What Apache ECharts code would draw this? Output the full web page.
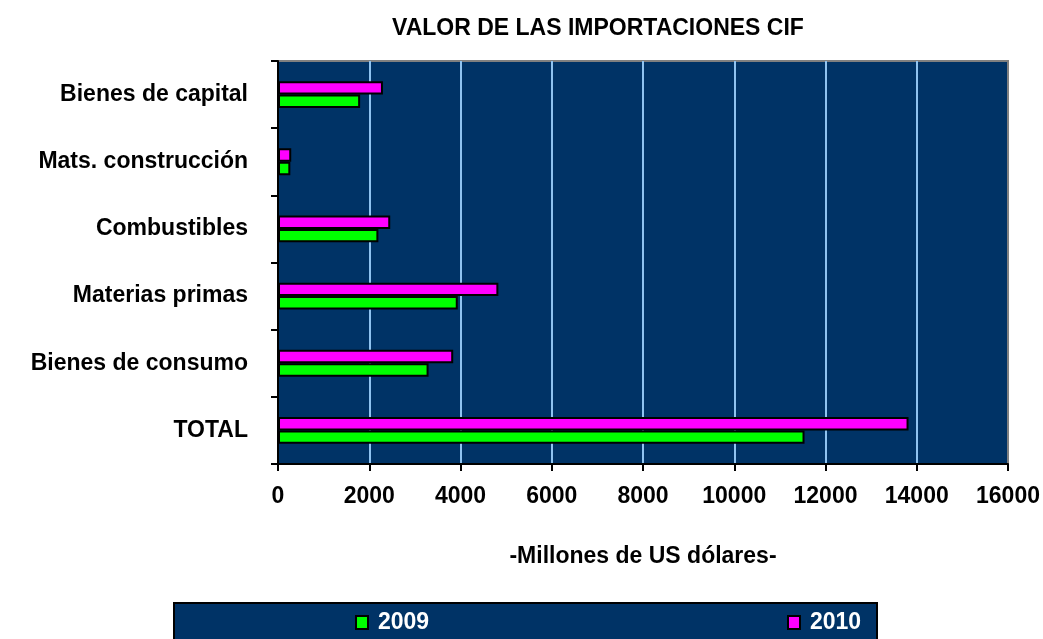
<!DOCTYPE html>
<html>
<head>
<meta charset="utf-8">
<title>VALOR DE LAS IMPORTACIONES CIF</title>
<script src="https://cdn.jsdelivr.net/npm/echarts@6/dist/echarts.min.js"></script>
<style>
html, body { margin: 0; padding: 0; background: #fff; }
#main { width: 1043px; height: 639px; }
</style>
</head>
<body>
<div id="main"></div>
<script>
// datos (millones de US$)
var categorias = ['Bienes de capital', 'Mats. construcción', 'Combustibles', 'Materias primas', 'Bienes de consumo', 'TOTAL'];
var valores2009 = [1800, 270, 2200, 3940, 3300, 11540];
var valores2010 = [2300, 290, 2460, 4830, 3840, 13820];
var ticksX = [0, 2000, 4000, 6000, 8000, 10000, 12000, 14000, 16000];

var fuente = '"Liberation Sans", Arial, sans-serif';

var myChart = echarts.init(document.getElementById('main'));
var option = {
    animation: false,
    textStyle: { fontFamily: fuente },
    graphic: [
        {
            type: 'text',
            left: 392,
            top: 17,
            style: {
                text: 'VALOR DE LAS IMPORTACIONES CIF',
                fontFamily: fuente,
                fontWeight: 'bold',
                fontSize: 23,
                fill: '#000'
            }
        },
        {
            // caja de la leyenda
            type: 'rect',
            z: 0,
            shape: { x: 174, y: 603, width: 703, height: 50 },
            style: { fill: '#003366', stroke: '#000', lineWidth: 2 }
        }
    ],
    legend: [
        {
            data: ['2009'],
            left: 355,
            top: 611,
            padding: 0,
            z: 10,
            icon: 'rect',
            itemWidth: 12,
            itemHeight: 13,
            textStyle: { color: '#fff', fontWeight: 'bold', fontSize: 23, fontFamily: fuente, padding: [0, 0, 0, 5] }
        },
        {
            data: ['2010'],
            left: 787,
            top: 611,
            padding: 0,
            z: 10,
            icon: 'rect',
            itemWidth: 12,
            itemHeight: 13,
            textStyle: { color: '#fff', fontWeight: 'bold', fontSize: 23, fontFamily: fuente, padding: [0, 0, 0, 5] }
        }
    ],
    grid: {
        left: 278,
        right: 35,
        top: 61,
        bottom: 175,
        outerBoundsMode: 'none',
        show: true,
        backgroundColor: '#003366',
        borderColor: '#808080',
        borderWidth: 2
    },
    xAxis: {
        type: 'value',
        min: ticksX[0],
        max: ticksX[ticksX.length - 1],
        interval: 2000,
        name: '-Millones de US dólares-',
        nameLocation: 'middle',
        nameGap: 81,
        nameTextStyle: { fontWeight: 'bold', fontSize: 23, color: '#000', fontFamily: fuente },
        axisLine: { show: true, lineStyle: { color: '#000', width: 2 } },
        axisTick: { show: true, length: 7, lineStyle: { color: '#000', width: 2 } },
        axisLabel: {
            margin: 21, fontWeight: 'bold', fontSize: 23, color: '#000', fontFamily: fuente,
            formatter: function (v) { return String(v); }
        },
        splitLine: { show: true, showMaxLine: false, lineStyle: { color: '#8fc3f0', width: 2 } }
    },
    yAxis: {
        type: 'category',
        data: categorias,
        inverse: true,
        axisLine: { show: true, lineStyle: { color: '#000', width: 2 } },
        axisTick: { show: true, length: 7, lineStyle: { color: '#000', width: 2 } },
        axisLabel: { margin: 30, fontWeight: 'bold', fontSize: 23, color: '#000', fontFamily: fuente },
        splitLine: { show: false }
    },
    series: [
        {
            name: '2010',
            type: 'bar',
            data: valores2010,
            barGap: '0%',
            barCategoryGap: '60%',
            itemStyle: { color: '#ff00ff', borderColor: '#000', borderWidth: 2 }
        },
        {
            name: '2009',
            type: 'bar',
            data: valores2009,
            barGap: '0%',
            barCategoryGap: '60%',
            itemStyle: { color: '#00ff00', borderColor: '#000', borderWidth: 2 }
        }
    ]
};
myChart.setOption(option);
</script>
</body>
</html>
